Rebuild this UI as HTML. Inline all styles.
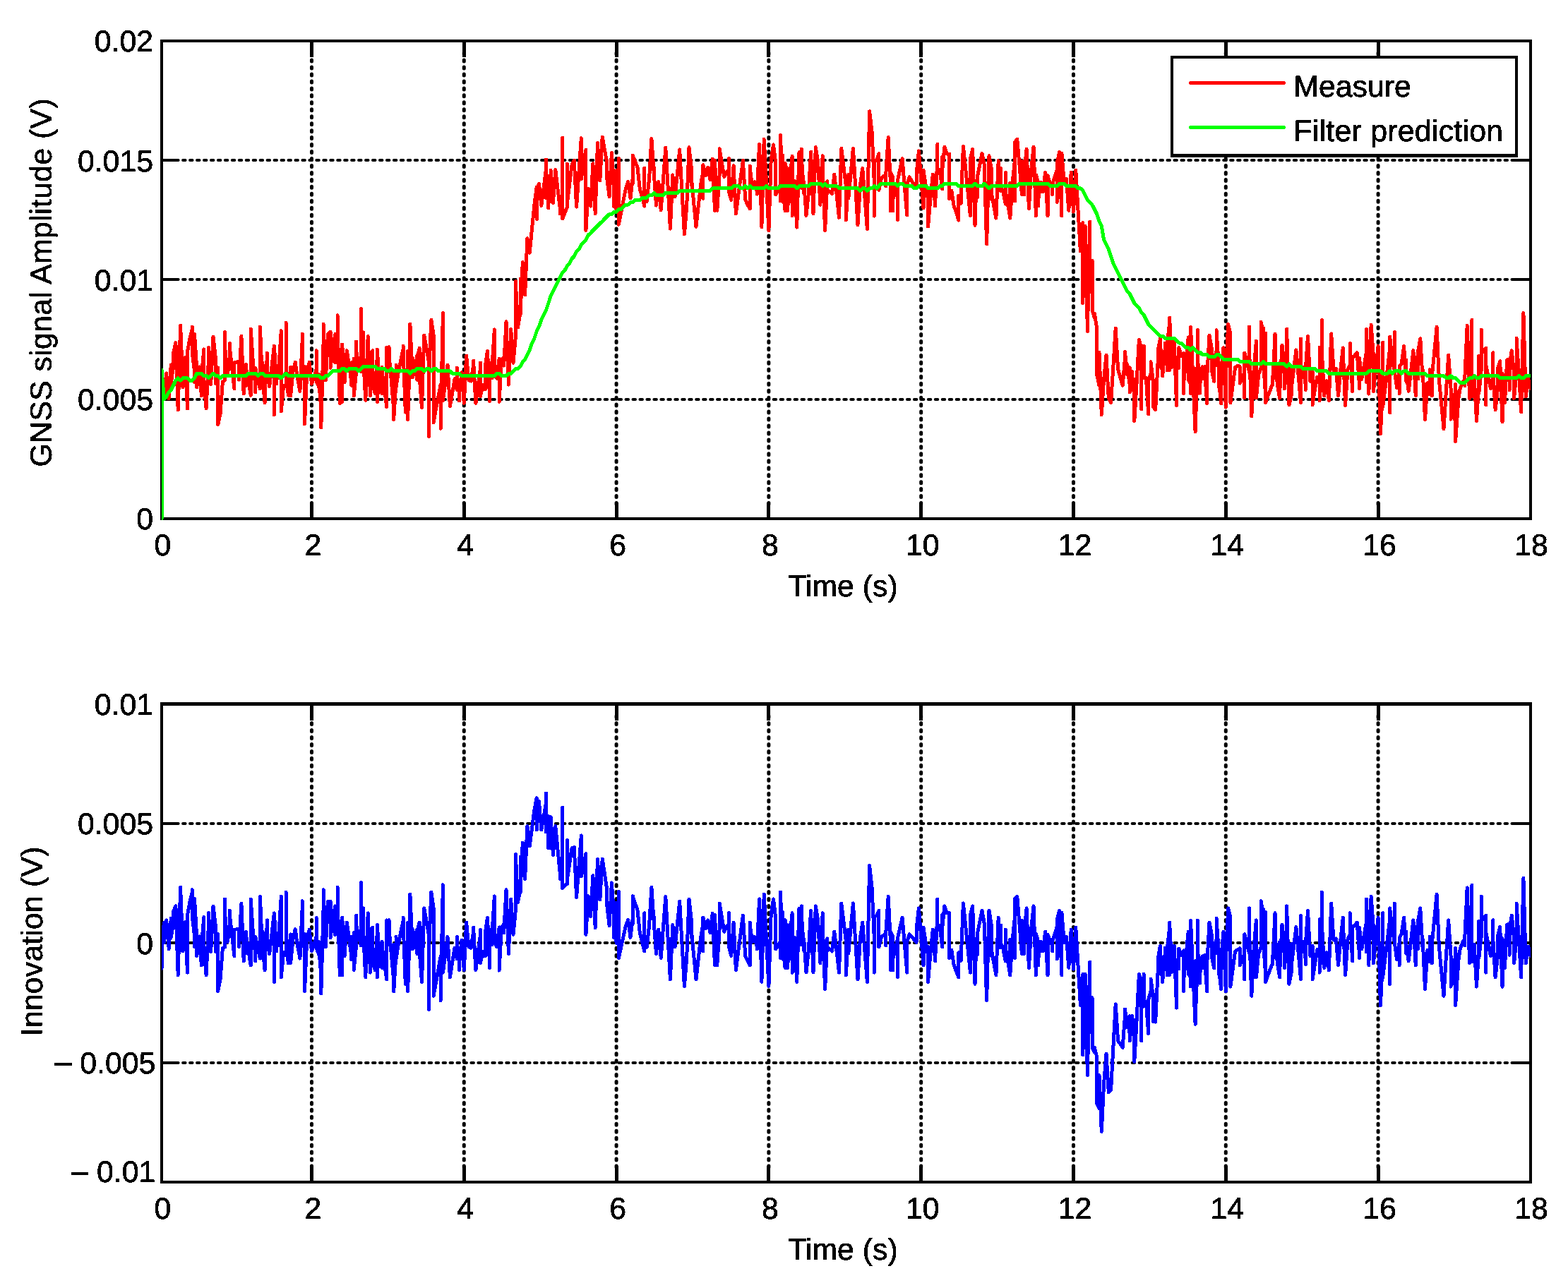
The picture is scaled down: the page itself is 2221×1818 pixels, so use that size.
<!DOCTYPE html>
<html lang="en"><head><meta charset="utf-8"><title>GNSS signal amplitude and innovation</title>
<style>
html,body{margin:0;padding:0;background:#fff;}
body{width:2221px;height:1818px;overflow:hidden;}
svg{display:block;}
.t{font-family:"Liberation Sans",sans-serif;font-size:42.8px;fill:#000;stroke:#000;stroke-width:0.7px;filter:url(#alias);}
.box{fill:none;stroke:#000;stroke-width:4;}
.tv{stroke:#000;stroke-width:5;}
.th{stroke:#000;stroke-width:4;}
.gv{stroke:#000;stroke-width:5;stroke-dasharray:2 7.96;stroke-linecap:round;shape-rendering:geometricPrecision;}
.gh{stroke:#000;stroke-width:4;stroke-dasharray:3.5 6.46;stroke-linecap:round;shape-rendering:geometricPrecision;}
.c{fill:none;stroke-width:5;stroke-linejoin:round;stroke-linecap:round;shape-rendering:crispEdges;}
</style></head><body>
<svg width="2221" height="1818" viewBox="0 0 2221 1818" shape-rendering="crispEdges" text-rendering="geometricPrecision">
<rect x="0" y="0" width="2221" height="1818" fill="#fff"/>
<defs><filter id="alias" x="-5%" y="-5%" width="110%" height="110%" color-interpolation-filters="sRGB"><feComponentTransfer><feFuncA type="discrete" tableValues="0 0 1 1"/></feComponentTransfer></filter></defs>
<defs><clipPath id="cp1"><rect x="229.0" y="58.0" width="1939.0" height="679.0"/></clipPath><clipPath id="cp2"><rect x="229.0" y="997.5" width="1939.0" height="679.5"/></clipPath></defs>
<line x1="441.48" y1="75.10" x2="441.48" y2="721.00" class="gv"/>
<line x1="441.48" y1="58.00" x2="441.48" y2="81.00" class="tv"/>
<line x1="441.48" y1="735.00" x2="441.48" y2="712.00" class="tv"/>
<line x1="657.28" y1="75.10" x2="657.28" y2="721.00" class="gv"/>
<line x1="657.28" y1="58.00" x2="657.28" y2="81.00" class="tv"/>
<line x1="657.28" y1="735.00" x2="657.28" y2="712.00" class="tv"/>
<line x1="873.08" y1="75.10" x2="873.08" y2="721.00" class="gv"/>
<line x1="873.08" y1="58.00" x2="873.08" y2="81.00" class="tv"/>
<line x1="873.08" y1="735.00" x2="873.08" y2="712.00" class="tv"/>
<line x1="1088.88" y1="75.10" x2="1088.88" y2="721.00" class="gv"/>
<line x1="1088.88" y1="58.00" x2="1088.88" y2="81.00" class="tv"/>
<line x1="1088.88" y1="735.00" x2="1088.88" y2="712.00" class="tv"/>
<line x1="1304.68" y1="75.10" x2="1304.68" y2="721.00" class="gv"/>
<line x1="1304.68" y1="58.00" x2="1304.68" y2="81.00" class="tv"/>
<line x1="1304.68" y1="735.00" x2="1304.68" y2="712.00" class="tv"/>
<line x1="1520.48" y1="75.10" x2="1520.48" y2="721.00" class="gv"/>
<line x1="1520.48" y1="58.00" x2="1520.48" y2="81.00" class="tv"/>
<line x1="1520.48" y1="735.00" x2="1520.48" y2="712.00" class="tv"/>
<line x1="1736.28" y1="75.10" x2="1736.28" y2="721.00" class="gv"/>
<line x1="1736.28" y1="58.00" x2="1736.28" y2="81.00" class="tv"/>
<line x1="1736.28" y1="735.00" x2="1736.28" y2="712.00" class="tv"/>
<line x1="1952.08" y1="75.10" x2="1952.08" y2="721.00" class="gv"/>
<line x1="1952.08" y1="58.00" x2="1952.08" y2="81.00" class="tv"/>
<line x1="1952.08" y1="735.00" x2="1952.08" y2="712.00" class="tv"/>
<line x1="249.10" y1="566.00" x2="2154.00" y2="566.00" class="gh"/>
<line x1="229.00" y1="566.00" x2="252.00" y2="566.00" class="th"/>
<line x1="2168.00" y1="566.00" x2="2145.00" y2="566.00" class="th"/>
<line x1="249.10" y1="396.00" x2="2154.00" y2="396.00" class="gh"/>
<line x1="229.00" y1="396.00" x2="252.00" y2="396.00" class="th"/>
<line x1="2168.00" y1="396.00" x2="2145.00" y2="396.00" class="th"/>
<line x1="249.10" y1="227.00" x2="2154.00" y2="227.00" class="gh"/>
<line x1="229.00" y1="227.00" x2="252.00" y2="227.00" class="th"/>
<line x1="2168.00" y1="227.00" x2="2145.00" y2="227.00" class="th"/>
<rect x="229.0" y="58.0" width="1939.0" height="677.0" class="box"/>
<g clip-path="url(#cp1)"><path class="c" stroke="#f00" d="M229.0,568.5L232.3,538.1V566.0L235.6,528.9L239.0,561.6V558.1V564.8L242.3,516.8V543.8L245.6,516.0V500.6V522.1V500.6L248.9,485.5L252.2,581.0L255.6,461.2L258.9,543.4V536.1V548.6V536.1L262.2,511.5V506.7V511.6L265.5,579.0V498.1V579.0V498.1L268.8,480.5L272.2,466.4V463.1V499.9L275.5,525.5V473.2V541.2V473.2L278.8,523.6V548.7L282.1,519.9L285.4,561.0V526.6V561.0V533.4L288.8,494.9V537.6L292.1,578.9L295.4,510.1V492.8V520.7V492.8L298.7,543.6V544.6L302.0,477.1L305.4,507.2V543.5V530.1L308.7,549.3V520.9V601.7L312.0,586.7L315.3,542.4V541.4V542.4V541.7L318.6,538.1V470.5V538.1V490.8L322.0,530.8L325.3,514.3V486.6V514.3V491.8L328.6,521.3L331.9,550.7V513.8V550.7V513.8L335.2,513.1L338.6,512.5V538.1L341.9,476.3L345.2,558.0V518.5V558.0V532.2L348.5,516.5V546.5V521.1L351.8,539.8L355.2,560.2V466.4V560.2V466.4L358.5,515.3V536.2V520.0L361.8,523.2V521.6V555.8V521.6L365.1,538.4L368.4,550.9V463.2V550.9V463.2L371.8,546.8V513.6V546.8V534.0L375.1,570.7V518.1V570.7V559.3L378.4,504.9V500.1V527.8L381.7,547.7L385.0,518.9L388.4,490.1V587.9V490.3L391.7,543.3V525.1V543.8V525.1L395.0,535.8V510.4V535.8V518.4L398.3,468.6V582.9L401.6,546.4V547.4V546.7L405.0,547.1V457.2V547.1V527.5L408.3,560.1L411.6,520.1V561.0L414.9,528.1V527.1V528.1V527.5L418.2,513.1L421.6,537.4V536.4V537.4V536.4L424.9,554.4L428.2,482.3V473.2V536.6L431.5,519.5V600.9L434.8,525.4V523.7V525.8L438.2,513.4L441.5,544.1L444.8,535.0L448.1,523.5V496.9V540.1L451.4,547.9V530.4V547.9V536.6L454.8,578.9V560.0V605.8L458.1,485.5V459.4V485.5V459.4L461.4,536.7V539.0V537.1L464.7,472.9L468.0,470.1V521.4L471.4,495.0V494.7V495.7L474.7,473.6V514.0L478.0,512.0V446.8V512.0V458.0L481.3,571.4V504.8V571.4V570.8L484.6,569.4V488.0V569.4V488.0L488.0,529.8V521.7V541.8L491.3,496.7L494.6,518.3L497.9,541.7V513.9V546.3V513.9L501.2,530.7V508.4V561.0L504.6,527.1V484.0V527.1V496.6L507.9,517.4V511.3V517.4V513.3L511.2,526.4V437.6V526.4V522.5L514.5,470.9V522.3V505.1L517.8,567.4L521.2,476.5L524.5,560.7L527.8,512.2V496.8V540.5L531.1,557.1L534.4,504.4V495.3V569.5V495.3L537.8,556.1V540.5V556.1V540.5L541.1,520.4V557.7V527.0L544.4,550.5L547.7,576.4V492.5V576.4V492.5L551.0,526.7V491.9V526.7V503.5L554.4,540.1L557.7,579.8V528.4V594.3L561.0,540.5V517.2V548.6L564.3,527.3L567.6,511.1L571.0,494.9V490.0V494.9V494.6L574.3,584.1L577.6,556.1V497.8V594.8L580.9,495.1V459.2V495.1V459.2L584.2,535.0V507.1V535.0V507.1L587.6,516.5L590.9,538.3V504.0V538.3V505.7L594.2,493.4V534.5L597.5,577.7L600.8,475.0L604.2,494.0L607.5,514.0V618.5V534.9L610.8,453.2L614.1,474.5V598.9L617.4,579.4L620.8,562.7L624.1,545.0V607.3L627.4,443.4V567.8L630.7,542.5L634.0,517.2L637.4,575.4L640.7,556.9L644.0,536.8V541.4L647.3,552.4V521.0V552.4V540.8L650.6,544.2V568.0V558.3L654.0,527.8V543.9V528.4L657.3,571.4L660.6,504.1L663.9,538.7L667.2,539.8V539.1V540.1V539.1L670.6,517.0V511.1V517.0V511.1L673.9,571.4L677.2,546.4L680.5,521.4V514.1V561.7L683.8,545.6V546.6V546.3L687.2,547.8V519.3V551.7V519.3L690.5,497.1L693.8,568.4V540.0V568.4V540.0L697.1,510.9V535.6V516.8L700.4,466.8V531.6L703.8,536.2L707.1,508.2V569.4L710.4,509.9V510.8V509.8L713.7,506.1V518.2L717.0,455.8L720.4,545.2L723.7,466.4L727.0,514.3L730.3,478.1V398.5V478.1V398.5L733.6,464.0V463.0V464.0V463.4L737.0,442.7V395.6V446.2L740.3,371.5L743.6,418.0L746.9,337.7L750.2,358.3L753.6,323.4L756.9,290.1L760.2,265.2V310.4V268.7L763.5,260.5L766.8,291.4L770.2,265.3L773.5,239.3V226.0V280.8L776.8,249.4V294.6V273.7L780.1,262.1V241.5V285.6V241.5L783.4,287.6L786.8,240.5L790.1,268.4L793.4,296.4V283.0V302.9V283.0L796.7,282.3V195.3V310.0L800.0,301.7L803.4,293.7V232.2V293.7V287.9L806.7,260.9L810.0,233.8L813.3,227.4L816.6,293.2L820.0,243.6L823.3,195.7V253.6L826.6,232.8L829.9,212.2V326.5L833.2,267.4L836.6,292.2L839.9,231.7L843.2,302.9L846.5,202.5L849.8,255.9L853.2,194.0L856.5,212.4L859.8,230.9V253.1L863.1,278.7L866.4,216.6L869.8,264.3V249.0V292.5V249.0L873.1,298.4V241.9V298.6V241.9L876.4,269.9V224.4V318.2L879.7,301.1L883.0,284.1L886.4,267.1L889.7,257.5L893.0,280.7L896.3,251.5V220.3V259.6V220.3L899.6,228.6L903.0,237.0L906.3,267.9L909.6,279.9L912.9,292.0V238.1V292.0V277.6L916.2,285.6L919.6,252.8L922.9,196.5L926.2,244.3V237.3V244.3V244.1L929.5,291.1L932.8,257.6L936.2,297.8L939.5,254.1L942.8,209.1L946.1,264.7L949.4,324.2L952.8,247.8L956.1,278.6L959.4,246.0L962.7,212.0L966.0,271.5L969.4,332.0L972.7,292.6L976.0,208.8L979.3,237.8V262.3V251.9L982.6,286.6L986.0,321.4L989.3,291.5L992.6,261.6L995.9,242.9V233.7V281.3V233.7L999.2,246.2V245.8V248.9V245.8L1002.6,237.2L1005.9,254.9L1009.2,225.1L1012.5,298.3V227.2V298.3V227.2L1015.8,298.3L1019.2,245.8V210.8V245.8V210.8L1022.5,230.8L1025.8,250.7L1029.1,243.9V243.6V244.6V243.6L1032.4,240.4V224.4V271.7L1035.8,283.5L1039.1,234.8L1042.4,302.8L1045.7,277.7L1049.0,252.6L1052.4,227.5L1055.7,282.6L1059.0,290.8L1062.3,295.6V235.0V295.6V238.3L1065.6,264.7V263.7V264.7V263.7L1069.0,257.7L1072.3,272.1V271.7V275.1V271.7L1075.6,204.3L1078.9,321.6L1082.2,197.3L1085.6,260.1L1088.9,326.9L1092.2,225.5V222.8V228.1L1095.5,205.0L1098.8,232.1V275.8L1102.2,270.0L1105.5,261.1V191.4V284.9V191.4L1108.8,285.9V220.0V285.9V268.7L1112.1,298.8V231.3V298.8V231.3L1115.4,247.1V298.8V292.8L1118.8,282.9V237.9V282.9V255.5L1122.1,221.3V305.5V280.3L1125.4,257.7V256.7V257.7V256.7L1128.7,322.1L1132.0,215.6L1135.4,266.2V211.3V266.2V224.0L1138.7,273.8V258.1V273.8V258.1L1142.0,305.5L1145.3,273.9L1148.6,215.2L1152.0,302.6L1155.3,208.5L1158.6,228.5L1161.9,290.2L1165.2,220.6V237.1V235.5L1168.6,326.6L1171.9,256.8V269.0V268.5L1175.2,271.7L1178.5,274.8L1181.8,247.1L1185.2,276.8L1188.5,308.3L1191.8,210.3L1195.1,237.2L1198.4,264.0V311.9L1201.8,247.4V281.0L1205.1,245.7L1208.4,210.3L1211.7,264.1L1215.0,318.7L1218.4,263.0L1221.7,238.6L1225.0,280.4L1228.3,323.8V323.5V324.5V323.5L1231.6,157.7L1235.0,185.8L1238.3,257.8V227.6V306.1V227.6L1241.6,227.0L1244.9,217.8V269.3L1248.2,253.9V252.9V253.9V252.9L1251.6,249.5L1254.9,247.4V244.4V264.0V244.4L1258.2,194.5L1261.5,260.4V244.8V298.9V244.8L1264.8,251.6V298.9V283.0L1268.2,269.8L1271.5,256.9V255.5V311.2V255.5L1274.8,239.8L1278.1,224.8L1281.4,266.1L1284.8,305.0V261.0V305.0V261.0L1288.1,250.8L1291.4,256.4L1294.7,261.5L1298.0,265.2V247.4V265.2V247.4L1301.4,213.9L1304.7,254.3L1308.0,294.7V241.1V294.7V241.1L1311.3,263.1V262.6V268.7L1314.6,281.7V271.2V321.0L1318.0,279.7V279.4V280.4L1321.3,247.4L1324.6,292.0V288.8V292.0V288.8L1327.9,226.3V204.3V246.4L1331.2,240.2V241.2L1334.6,267.8V222.2V267.8V242.1L1337.9,208.0L1341.2,218.0L1344.5,218.0V281.6L1347.8,272.6V270.3V276.8V270.3L1351.2,291.9L1354.5,300.7L1357.8,312.1V277.2V312.1V279.8L1361.1,288.5L1364.4,207.5L1367.8,240.1L1371.1,272.8L1374.4,305.5V224.6V305.5V224.6L1377.7,211.3L1381.0,319.1V282.1V319.1V301.9L1384.4,253.1V250.3V279.4V250.3L1387.7,234.2L1391.0,217.5L1394.3,233.6V234.6V234.2L1397.6,345.9L1401.0,220.7L1404.3,239.0V282.3V273.6L1407.6,291.1L1410.9,309.1L1414.2,227.7L1417.6,270.4V238.5V270.4V264.5L1420.9,271.0V272.0V271.9L1424.2,289.1V244.6V289.1V270.0L1427.5,289.3L1430.8,308.6V259.0V309.1L1434.2,257.9L1437.5,226.7V201.4V284.9V201.4L1440.8,197.2L1444.1,235.0L1447.4,275.6V228.5V275.6V228.5L1450.8,275.6V244.4V275.6V244.4L1454.1,211.1L1457.4,295.5L1460.7,239.8V240.8L1464.0,208.0L1467.4,305.8V247.9V305.8V247.9L1470.7,258.2V291.9V283.8L1474.0,258.2L1477.3,271.9L1480.6,244.3L1484.0,305.9V248.7V305.9V248.7L1487.3,259.4L1490.6,267.1V261.5V275.2V261.5L1493.9,251.0L1497.2,240.6V231.3V286.3V231.3L1500.6,215.3L1503.9,305.8V217.1V305.8V217.1L1507.2,257.7V259.7V258.6L1510.5,253.7L1513.8,298.3L1517.2,244.0L1520.5,300.1L1523.8,241.0L1527.1,299.2L1530.4,356.0L1533.8,315.4V429.5L1537.1,321.4V320.4V321.4V321.2L1540.4,469.6L1543.7,314.0V413.4L1547.0,402.4V369.2V439.7L1550.4,450.5V444.3V450.5V444.3L1553.7,465.5V531.1L1557.0,546.3V499.5V546.3V499.5L1560.3,587.6L1563.6,537.0V538.0L1567.0,503.3L1570.3,564.4L1573.6,570.3L1576.9,519.0L1580.2,465.0L1583.6,523.4L1586.9,534.9L1590.2,546.4L1593.5,507.7V498.8V510.8V498.8L1596.8,530.9V516.5V530.9V520.2L1600.2,545.6V520.8V555.7V520.8L1603.5,539.3V526.4V552.4L1606.8,554.7V537.7V596.4L1610.1,542.1V541.1V542.1V541.1L1613.4,481.3L1616.8,494.2V579.8V529.4L1620.1,507.0V490.0V535.6L1623.4,536.6V535.6V536.6V535.6L1626.7,586.8V539.2V586.8V539.2L1630.0,529.9V512.9V536.7V512.9L1633.4,541.1V538.0V576.3L1636.7,580.7L1640.0,515.3V494.4V515.3V497.3L1643.3,480.3V519.2V483.2L1646.6,533.0L1650.0,496.2V486.1V507.3V486.1L1653.3,499.4V487.8V524.7V487.8L1656.6,457.9V450.3V524.5V450.3L1659.9,514.2V512.4V520.1V512.4L1663.2,508.8V484.4V508.8V484.4L1666.6,574.4V506.5V574.4V506.5L1669.9,521.4V492.6V521.4V492.6L1673.2,504.9L1676.5,500.3V557.8V543.8L1679.8,510.9L1683.2,477.9V537.9L1686.5,543.9V463.8V557.3V463.8L1689.8,534.8L1693.1,611.8V522.5V611.8V603.9L1696.4,527.6V467.4V527.6V508.1L1699.8,547.6V544.0V557.1V544.0L1703.1,519.9V536.9V527.4L1706.4,519.2V525.8L1709.7,571.5V529.7V571.5V533.1L1713.0,475.4L1716.4,493.8V525.4L1719.7,540.2V511.0V540.2V511.0L1723.0,497.5V467.7V517.2V467.7L1726.3,516.8V547.6V538.4L1729.6,571.9V529.9V571.9V529.9L1733.0,492.7V516.7V498.0L1736.3,577.1V509.1V577.1V537.5L1739.6,459.6L1742.9,472.9V570.6L1746.2,545.6L1749.6,520.5L1752.9,518.5L1756.2,519.2V543.1L1759.5,535.7L1762.8,527.4V500.0V563.9V500.0L1766.2,513.4L1769.5,526.9V463.1V526.9V494.3L1772.8,589.9L1776.1,523.9V522.9V523.9V522.9L1779.4,483.2V564.0L1782.8,529.5V530.5L1786.1,521.7V456.2V521.7V456.2L1789.4,470.9V464.9V510.6L1792.7,561.6V472.0V570.6L1796.0,561.0L1799.4,552.2L1802.7,543.5V533.3V545.3L1806.0,473.1V509.1V502.2L1809.3,544.0L1812.6,564.0V514.2V564.0V557.8L1816.0,489.2V498.1L1819.3,501.9V550.7V542.2L1822.6,518.5V466.2V518.5V466.2L1825.9,573.9L1829.2,560.1V519.7V560.1V550.0L1832.6,523.1L1835.9,495.9L1839.2,533.0L1842.5,570.6V480.1V570.6V526.1L1845.8,520.2V521.2V520.5L1849.2,545.5V525.7V552.3V525.7L1852.5,476.2L1855.8,540.3L1859.1,526.0V573.6L1862.4,552.4L1865.8,534.2V535.2L1869.1,541.8V492.4V567.6L1872.4,526.6V453.5V526.6V499.5L1875.7,561.0L1879.0,541.0V539.8V541.0V540.5L1882.4,567.5L1885.7,472.8L1889.0,524.9L1892.3,523.6V522.6V523.6V522.6L1895.6,560.5L1899.0,522.6L1902.3,493.0V521.0V498.6L1905.6,574.4L1908.9,525.1V524.1V525.1V524.1L1912.2,517.4V486.6V517.4V486.6L1915.6,554.5V507.6V554.5V507.6L1918.9,503.7L1922.2,499.9L1925.5,545.5V507.5V550.3V507.5L1928.8,537.6L1932.2,518.1L1935.5,498.6V466.8V541.8V466.8L1938.8,558.2L1942.1,460.3L1945.4,503.9V554.6L1948.8,522.4L1952.1,490.1L1955.4,614.5L1958.7,547.5V485.2V576.1L1962.0,550.1L1965.4,522.4L1968.7,492.8V477.2V584.6V477.2L1972.0,510.2V509.8V510.8V509.8L1975.3,525.5V470.5V525.8L1978.6,549.5V548.5V549.5V549.3L1982.0,526.2V519.2V557.7V519.2L1985.3,515.6V514.6V515.6V514.6L1988.6,490.6L1991.9,540.7V510.1V540.7V528.4L1995.2,554.3L1998.6,525.6L2001.9,496.6L2005.2,560.5V506.3V560.5V533.7L2008.5,524.9V498.3V537.0V498.3L2011.8,479.7L2015.2,538.0V524.0V539.6V524.0L2018.5,594.9L2021.8,543.9V542.9V543.9V543.7L2025.1,558.9V523.7V558.9V523.7L2028.4,561.0V529.3V561.0V532.6L2031.8,497.9L2035.1,463.3L2038.4,538.1L2041.7,572.8L2045.0,607.6L2048.4,553.9L2051.7,503.3L2055.0,550.2V594.1L2058.3,559.8V559.1V560.1V559.1L2061.6,603.8V544.6V625.4L2065.0,578.2V555.5V578.2V570.4L2068.3,549.7L2071.6,542.8V541.8V542.8V541.8L2074.9,537.1V533.4V546.5V533.4L2078.2,461.3L2081.6,564.8L2084.9,453.3V562.0L2088.2,535.4V534.4V535.4V534.4L2091.5,596.6L2094.8,542.2V504.6V557.0L2098.2,524.6V467.2V524.6V501.5L2101.5,496.9L2104.8,493.2V574.0V516.8L2108.1,533.6L2111.4,550.4L2114.8,533.3V499.8V533.3V526.4L2118.1,580.7L2121.4,551.3V522.4V551.3V522.4L2124.7,511.8L2128.0,597.5V529.4V597.5V534.8L2131.4,570.9L2134.7,510.0L2138.0,508.6V552.8V518.2L2141.3,496.7L2144.6,530.1V564.2L2148.0,528.3V479.4V528.3V479.4L2151.3,526.1V525.1V526.1V525.2L2154.6,583.8L2157.9,443.5L2161.2,561.8L2164.6,537.6V537.0V538.0V537.0L2167.9,550.0"/><path class="c" stroke="#0f0" d="M229.0,735.0 L229.0,524.0 L232.3,565.7 L235.6,562.4 L239.0,555.7 L242.3,552.4 L245.6,545.8 L248.9,539.1 L252.2,535.8 L255.6,539.1 L258.9,535.8 L265.5,535.8 L268.8,539.1 L272.2,539.1 L275.5,535.8 L278.8,529.2 L285.4,529.2 L288.8,532.5 L292.1,532.5 L295.4,535.8 L298.7,532.5 L302.0,529.2 L305.4,532.5 L308.7,532.5 L312.0,535.8 L315.3,532.5 L348.5,532.5 L351.8,529.2 L361.8,529.2 L365.1,532.5 L368.4,529.2 L371.8,529.2 L375.1,532.5 L395.0,532.5 L398.3,535.8 L401.6,532.5 L405.0,529.2 L408.3,532.5 L451.4,532.5 L454.8,535.8 L458.1,535.8 L461.4,532.5 L464.7,532.5 L468.0,529.2 L471.4,525.8 L481.3,525.8 L484.6,522.5 L488.0,522.5 L491.3,525.8 L494.6,522.5 L504.6,522.5 L507.9,525.8 L511.2,522.5 L514.5,519.2 L531.1,519.2 L534.4,522.5 L544.4,522.5 L547.7,525.8 L551.0,525.8 L554.4,522.5 L557.7,525.8 L577.6,525.8 L580.9,529.2 L584.2,525.8 L587.6,525.8 L590.9,522.5 L597.5,522.5 L600.8,525.8 L604.2,522.5 L607.5,522.5 L610.8,525.8 L614.1,522.5 L617.4,522.5 L620.8,525.8 L637.4,525.8 L640.7,529.2 L650.6,529.2 L654.0,532.5 L700.4,532.5 L703.8,529.2 L707.1,529.2 L710.4,532.5 L717.0,532.5 L720.4,529.2 L723.7,529.2 L727.0,525.8 L730.3,522.5 L733.6,522.5 L737.0,519.2 L740.3,512.6 L743.6,509.2 L746.9,502.6 L750.2,496.0 L753.6,486.0 L756.9,479.4 L760.2,469.4 L763.5,462.8 L766.8,452.8 L770.2,446.2 L773.5,439.5 L776.8,429.6 L780.1,419.6 L783.4,413.0 L786.8,406.3 L790.1,399.7 L793.4,393.0 L796.7,386.4 L800.0,383.1 L803.4,376.4 L806.7,373.1 L810.0,366.5 L813.3,363.2 L816.6,356.5 L820.0,353.2 L823.3,346.6 L826.6,343.2 L829.9,339.9 L833.2,333.3 L836.6,330.0 L839.9,326.6 L843.2,323.3 L846.5,320.0 L849.8,316.7 L853.2,313.4 L856.5,310.0 L859.8,306.7 L863.1,303.4 L866.4,303.4 L869.8,300.1 L873.1,300.1 L876.4,296.8 L879.7,296.8 L883.0,293.4 L886.4,290.1 L889.7,290.1 L893.0,286.8 L896.3,286.8 L899.6,283.5 L906.3,283.5 L909.6,280.2 L916.2,280.2 L919.6,276.8 L922.9,276.8 L926.2,273.5 L929.5,276.8 L939.5,276.8 L942.8,273.5 L959.4,273.5 L962.7,270.2 L1005.9,270.2 L1009.2,266.9 L1035.8,266.9 L1039.1,263.6 L1045.7,263.6 L1049.0,266.9 L1052.4,266.9 L1055.7,263.6 L1059.0,266.9 L1062.3,263.6 L1065.6,266.9 L1082.2,266.9 L1085.6,263.6 L1088.9,266.9 L1102.2,266.9 L1105.5,263.6 L1125.4,263.6 L1128.7,266.9 L1132.0,263.6 L1145.3,263.6 L1148.6,260.2 L1161.9,260.2 L1165.2,263.6 L1168.6,260.2 L1171.9,263.6 L1185.2,263.6 L1188.5,266.9 L1215.0,266.9 L1218.4,270.2 L1221.7,266.9 L1225.0,266.9 L1228.3,270.2 L1231.6,266.9 L1235.0,266.9 L1238.3,263.6 L1241.6,266.9 L1244.9,263.6 L1248.2,260.2 L1268.2,260.2 L1271.5,263.6 L1274.8,260.2 L1278.1,260.2 L1281.4,263.6 L1291.4,263.6 L1294.7,266.9 L1298.0,266.9 L1301.4,263.6 L1311.3,263.6 L1314.6,266.9 L1327.9,266.9 L1331.2,263.6 L1334.6,263.6 L1337.9,260.2 L1354.5,260.2 L1357.8,263.6 L1377.7,263.6 L1381.0,260.2 L1384.4,263.6 L1391.0,263.6 L1394.3,260.2 L1397.6,263.6 L1401.0,266.9 L1404.3,263.6 L1440.8,263.6 L1444.1,260.2 L1484.0,260.2 L1487.3,263.6 L1497.2,263.6 L1500.6,260.2 L1507.2,260.2 L1510.5,263.6 L1523.8,263.6 L1527.1,266.9 L1530.4,266.9 L1533.8,270.2 L1537.1,276.8 L1540.4,283.5 L1543.7,286.8 L1547.0,290.1 L1550.4,296.8 L1553.7,303.4 L1557.0,313.4 L1560.3,320.0 L1563.6,339.9 L1567.0,346.6 L1570.3,353.2 L1573.6,363.2 L1576.9,373.1 L1580.2,379.8 L1583.6,386.4 L1586.9,393.0 L1590.2,399.7 L1593.5,406.3 L1596.8,413.0 L1600.2,416.3 L1603.5,422.9 L1606.8,429.6 L1610.1,432.9 L1613.4,436.2 L1616.8,442.8 L1620.1,446.2 L1623.4,452.8 L1626.7,459.4 L1630.0,462.8 L1633.4,466.1 L1636.7,469.4 L1640.0,472.7 L1643.3,476.0 L1646.6,476.0 L1650.0,479.4 L1663.2,479.4 L1666.6,482.7 L1669.9,486.0 L1673.2,486.0 L1676.5,489.3 L1679.8,492.6 L1683.2,492.6 L1686.5,496.0 L1689.8,492.6 L1693.1,496.0 L1696.4,499.3 L1699.8,499.3 L1703.1,502.6 L1709.7,502.6 L1713.0,505.9 L1719.7,505.9 L1723.0,502.6 L1726.3,502.6 L1729.6,505.9 L1733.0,509.2 L1752.9,509.2 L1756.2,512.6 L1769.5,512.6 L1772.8,515.9 L1786.1,515.9 L1789.4,512.6 L1792.7,515.9 L1819.3,515.9 L1822.6,519.2 L1825.9,515.9 L1829.2,519.2 L1842.5,519.2 L1845.8,522.5 L1862.4,522.5 L1865.8,525.8 L1879.0,525.8 L1882.4,529.2 L1935.5,529.2 L1938.8,525.8 L1955.4,525.8 L1958.7,529.2 L1965.4,529.2 L1968.7,525.8 L1972.0,529.2 L1975.3,525.8 L1982.0,525.8 L1985.3,529.2 L1988.6,525.8 L1991.9,525.8 L1995.2,529.2 L2018.5,529.2 L2021.8,532.5 L2045.0,532.5 L2048.4,535.8 L2051.7,535.8 L2055.0,532.5 L2058.3,535.8 L2061.6,535.8 L2065.0,539.1 L2068.3,542.4 L2074.9,542.4 L2078.2,539.1 L2081.6,535.8 L2084.9,535.8 L2088.2,532.5 L2091.5,535.8 L2094.8,535.8 L2098.2,532.5 L2121.4,532.5 L2124.7,535.8 L2148.0,535.8 L2151.3,532.5 L2154.6,535.8 L2157.9,535.8 L2161.2,532.5 L2167.9,532.5"/></g>
<text x="217.0" y="750.30" text-anchor="end" class="t" xml:space="preserve">0</text>
<text x="217.0" y="581.05" text-anchor="end" class="t" xml:space="preserve">0.005</text>
<text x="217.0" y="411.80" text-anchor="end" class="t" xml:space="preserve">0.01</text>
<text x="217.0" y="242.55" text-anchor="end" class="t" xml:space="preserve">0.015</text>
<text x="217.0" y="73.30" text-anchor="end" class="t" xml:space="preserve">0.02</text>
<text x="230.50" y="787.00" text-anchor="middle" class="t">0</text>
<text x="443.48" y="787.00" text-anchor="middle" class="t">2</text>
<text x="659.28" y="787.00" text-anchor="middle" class="t">4</text>
<text x="875.08" y="787.00" text-anchor="middle" class="t">6</text>
<text x="1090.88" y="787.00" text-anchor="middle" class="t">8</text>
<text x="1306.68" y="787.00" text-anchor="middle" class="t">10</text>
<text x="1522.48" y="787.00" text-anchor="middle" class="t">12</text>
<text x="1738.28" y="787.00" text-anchor="middle" class="t">14</text>
<text x="1954.08" y="787.00" text-anchor="middle" class="t">16</text>
<text x="2169.00" y="787.00" text-anchor="middle" class="t">18</text>
<text x="1194" y="845.00" text-anchor="middle" class="t">Time (s)</text>
<text transform="translate(72.6,400.4) rotate(-90)" text-anchor="middle" class="t" style="letter-spacing:0.35px">GNSS signal Amplitude (V)</text>
<rect x="1659.7" y="81" width="488.3" height="139" class="box" fill="#fff" style="fill:#fff"/>
<line x1="1657.7" y1="220.5" x2="2150" y2="220.5" stroke="#000" stroke-width="5"/>
<line x1="1686.8" y1="117.5" x2="1818.5" y2="117.5" stroke="#f00" stroke-width="5" stroke-linecap="round"/>
<line x1="1686.8" y1="180.5" x2="1818.5" y2="180.5" stroke="#0f0" stroke-width="5" stroke-linecap="round"/>
<text x="1832.3" y="137.4" class="t">Measure</text>
<text x="1832.3" y="200" class="t" style="letter-spacing:0.27px">Filter prediction</text>
<line x1="227.0" y1="997.5" x2="2170.0" y2="997.5" stroke="#000" stroke-width="5"/>
<line x1="441.48" y1="1014.60" x2="441.48" y2="1661.00" class="gv"/>
<line x1="441.48" y1="997.50" x2="441.48" y2="1020.50" class="tv"/>
<line x1="441.48" y1="1675.00" x2="441.48" y2="1652.00" class="tv"/>
<line x1="657.28" y1="1014.60" x2="657.28" y2="1661.00" class="gv"/>
<line x1="657.28" y1="997.50" x2="657.28" y2="1020.50" class="tv"/>
<line x1="657.28" y1="1675.00" x2="657.28" y2="1652.00" class="tv"/>
<line x1="873.08" y1="1014.60" x2="873.08" y2="1661.00" class="gv"/>
<line x1="873.08" y1="997.50" x2="873.08" y2="1020.50" class="tv"/>
<line x1="873.08" y1="1675.00" x2="873.08" y2="1652.00" class="tv"/>
<line x1="1088.88" y1="1014.60" x2="1088.88" y2="1661.00" class="gv"/>
<line x1="1088.88" y1="997.50" x2="1088.88" y2="1020.50" class="tv"/>
<line x1="1088.88" y1="1675.00" x2="1088.88" y2="1652.00" class="tv"/>
<line x1="1304.68" y1="1014.60" x2="1304.68" y2="1661.00" class="gv"/>
<line x1="1304.68" y1="997.50" x2="1304.68" y2="1020.50" class="tv"/>
<line x1="1304.68" y1="1675.00" x2="1304.68" y2="1652.00" class="tv"/>
<line x1="1520.48" y1="1014.60" x2="1520.48" y2="1661.00" class="gv"/>
<line x1="1520.48" y1="997.50" x2="1520.48" y2="1020.50" class="tv"/>
<line x1="1520.48" y1="1675.00" x2="1520.48" y2="1652.00" class="tv"/>
<line x1="1736.28" y1="1014.60" x2="1736.28" y2="1661.00" class="gv"/>
<line x1="1736.28" y1="997.50" x2="1736.28" y2="1020.50" class="tv"/>
<line x1="1736.28" y1="1675.00" x2="1736.28" y2="1652.00" class="tv"/>
<line x1="1952.08" y1="1014.60" x2="1952.08" y2="1661.00" class="gv"/>
<line x1="1952.08" y1="997.50" x2="1952.08" y2="1020.50" class="tv"/>
<line x1="1952.08" y1="1675.00" x2="1952.08" y2="1652.00" class="tv"/>
<line x1="249.10" y1="1506.00" x2="2154.00" y2="1506.00" class="gh"/>
<line x1="229.00" y1="1506.00" x2="252.00" y2="1506.00" class="th"/>
<line x1="2168.00" y1="1506.00" x2="2145.00" y2="1506.00" class="th"/>
<line x1="249.10" y1="1336.00" x2="2154.00" y2="1336.00" class="gh"/>
<line x1="229.00" y1="1336.00" x2="252.00" y2="1336.00" class="th"/>
<line x1="2168.00" y1="1336.00" x2="2145.00" y2="1336.00" class="th"/>
<line x1="249.10" y1="1167.00" x2="2154.00" y2="1167.00" class="gh"/>
<line x1="229.00" y1="1167.00" x2="252.00" y2="1167.00" class="th"/>
<line x1="2168.00" y1="1167.00" x2="2145.00" y2="1167.00" class="th"/>
<rect x="229.0" y="997.5" width="1939.0" height="677.5" class="box"/>
<g clip-path="url(#cp2)"><path class="c" stroke="#00f" d="M229.0,1372.1V1343.2V1372.1V1343.2L232.3,1307.8V1335.7L235.6,1303.9L239.0,1341.6V1338.2V1344.8L242.3,1301.4V1328.5L245.6,1307.2V1291.8V1313.2V1291.8L248.9,1283.9L252.2,1381.7L255.6,1257.1L258.9,1342.6V1335.3V1347.9V1335.3L262.2,1311.7V1306.9V1311.7L265.5,1378.1V1297.2V1378.1V1297.2L268.8,1278.5L272.2,1264.2V1260.9V1297.8L275.5,1326.0V1273.6V1341.7V1273.6L278.8,1329.4V1354.5L282.1,1326.9L285.4,1367.8V1333.4V1367.8V1340.2L288.8,1299.6V1342.4L292.1,1381.7L295.4,1311.0V1293.6V1321.6V1293.6L298.7,1347.5V1348.5L302.0,1283.9L305.4,1312.2V1348.5V1335.1L308.7,1352.3V1323.8V1404.7L312.0,1387.8L315.3,1344.5V1343.5V1344.5V1343.8L318.6,1341.7V1274.0V1341.7V1294.3L322.0,1334.6L325.3,1318.0V1290.3V1318.0V1295.5L328.6,1325.0L331.9,1354.5V1317.5V1354.5V1317.5L335.2,1316.8L338.6,1316.2V1341.8L341.9,1280.0L345.2,1361.8V1322.2V1361.8V1335.9L348.5,1320.2V1350.3V1324.9L351.8,1346.4L355.2,1367.8V1274.0V1367.8V1274.0L358.5,1322.9V1343.8V1327.6L361.8,1329.1V1327.6V1361.8V1327.6L365.1,1342.8L368.4,1358.1V1270.4V1358.1V1270.4L371.8,1352.8V1319.6V1352.8V1339.9L375.1,1374.8V1322.1V1374.8V1363.4L378.4,1308.6V1303.9V1331.6L381.7,1351.5L385.0,1322.7L388.4,1293.8V1391.6V1294.0L391.7,1347.1V1328.8V1347.6V1328.8L395.0,1339.6V1314.1V1339.6V1322.1L398.3,1270.4V1384.8L401.6,1349.6V1350.6V1349.9L405.0,1353.9V1264.0V1353.9V1334.3L408.3,1364.8L411.6,1323.8V1364.8L414.9,1331.9V1330.9V1331.9V1331.3L418.2,1316.8L421.6,1341.1V1340.1V1341.1V1340.1L424.9,1358.1L428.2,1286.0V1276.9V1340.3L431.5,1323.2V1404.7L434.8,1329.2V1327.4V1329.5L438.2,1317.2L441.5,1347.9L444.8,1338.8L448.1,1327.2V1300.6V1343.8L451.4,1351.7V1334.2V1351.7V1340.3L454.8,1380.8V1361.9V1407.7L458.1,1287.0V1260.9V1287.0V1260.9L461.4,1339.6V1341.8V1339.9L464.7,1277.3L468.0,1277.3V1328.5L471.4,1304.9V1304.6V1305.6L474.7,1283.9V1324.3L478.0,1322.3V1257.1V1322.3V1268.3L481.3,1381.7V1315.1V1381.7V1381.1L484.6,1381.7V1300.2V1381.7V1300.2L488.0,1342.4V1334.4V1354.5L491.3,1307.1L494.6,1331.2L497.9,1355.3V1327.5V1359.9V1327.5L501.2,1344.1V1321.8V1374.5L504.6,1340.4V1297.2V1340.4V1309.8L507.9,1327.9V1321.7V1327.9V1323.8L511.2,1339.5V1250.6V1339.5V1335.6L514.5,1286.9V1338.3V1321.1L517.8,1384.8L521.2,1293.8L524.5,1378.1L527.8,1329.6V1314.1V1357.9L531.1,1374.5L534.4,1319.7V1310.5V1384.8V1310.5L537.8,1369.8V1354.2V1369.8V1354.2L541.1,1334.1V1371.4V1340.7L544.4,1364.2L547.7,1387.8V1303.9V1387.8V1303.9L551.0,1338.7V1303.9V1338.7V1315.5L554.4,1352.8L557.7,1390.1V1338.7V1404.7L561.0,1350.8V1327.5V1358.9L564.3,1337.6L567.6,1321.4L571.0,1305.2V1300.2V1305.2V1304.9L574.3,1394.4L577.6,1366.0V1307.6V1404.7L580.9,1302.9V1267.0V1302.9V1267.0L584.2,1344.7V1316.7V1344.7V1316.7L587.6,1327.9L590.9,1351.5V1317.2V1351.5V1318.9L594.2,1307.1V1348.2L597.5,1391.4L600.8,1286.9L604.2,1306.5L607.5,1326.1V1430.7V1347.1L610.8,1264.0L614.1,1286.9V1411.4L617.4,1392.7L620.8,1374.0L624.1,1355.3V1417.7L627.4,1253.7V1378.1L630.7,1352.8L634.0,1327.5L637.4,1384.8L640.7,1364.0L644.0,1343.3V1347.9L647.3,1358.9V1327.5V1358.9V1347.2L650.6,1350.7V1374.5V1364.8L654.0,1332.3V1348.3V1332.9L657.3,1374.5L660.6,1307.1L663.9,1341.8L667.2,1342.9V1342.2V1343.2V1342.2L670.6,1320.0V1314.1V1320.0V1314.1L673.9,1374.5L677.2,1349.5L680.5,1324.5V1317.2V1364.8L683.8,1348.7V1349.7V1349.4L687.2,1350.9V1322.3V1354.8V1322.3L690.5,1300.1L693.8,1371.4V1343.0V1371.4V1343.0L697.1,1313.9V1338.6V1319.8L700.4,1269.8V1334.5L703.8,1341.8L707.1,1313.9V1375.1L710.4,1314.3V1315.3V1314.3L713.7,1309.7V1321.8L717.0,1260.7L720.4,1351.5L723.7,1274.0L727.0,1324.3L730.3,1290.4V1210.7V1290.4V1210.7L733.6,1278.6V1277.6V1278.6V1277.9L737.0,1261.3V1214.1V1264.8L740.3,1194.1L743.6,1245.4L746.9,1170.6L750.2,1198.8L753.6,1173.2L756.9,1147.6L760.2,1130.6V1175.8V1134.2L763.5,1135.5L766.8,1175.8L770.2,1156.6L773.5,1137.3V1124.0V1178.9L776.8,1156.6V1201.9V1180.9L780.1,1178.4V1157.9V1201.9V1157.9L783.4,1211.5L786.8,1170.6L790.1,1204.7L793.4,1238.9V1225.5V1245.4V1225.5L796.7,1231.0V1144.0V1258.7L800.0,1255.4L803.4,1252.1V1190.5V1252.1V1246.3L806.7,1224.1L810.0,1202.0L813.3,1200.6L816.6,1271.4L820.0,1226.8L823.3,1183.9V1241.8L826.6,1225.8L829.9,1209.9V1324.3L833.2,1269.8L836.6,1298.6L839.9,1240.7L843.2,1314.6L846.5,1217.1L849.8,1275.0L853.2,1217.1L856.5,1238.9L859.8,1260.7V1283.0L863.1,1311.6L866.4,1251.0L869.8,1300.4V1285.0V1328.5V1285.0L873.1,1336.1V1279.5V1336.3V1279.5L876.4,1309.2V1263.7V1357.5L879.7,1342.2L883.0,1326.9L886.4,1311.6L889.7,1303.6L893.0,1328.5L896.3,1300.9V1269.8V1309.0V1269.8L899.6,1279.7L903.0,1289.7L906.3,1321.8L909.6,1334.8L912.9,1347.9V1293.9V1347.9V1333.4L916.2,1342.4L919.6,1311.0L922.9,1257.1L926.2,1306.6V1299.6V1306.6V1306.5L929.5,1351.5L932.8,1317.2L936.2,1357.5L939.5,1313.9L942.8,1270.4L946.1,1329.1L949.4,1387.8L952.8,1310.5L956.1,1341.8L959.4,1309.5L962.7,1277.3L966.0,1337.4L969.4,1397.5L972.7,1357.5L976.0,1274.0L979.3,1304.0V1328.5V1318.0L982.6,1352.9L986.0,1387.8L989.3,1357.9L992.6,1328.1L995.9,1309.5V1300.2V1347.9V1300.2L999.2,1312.8V1312.4V1315.5V1312.4L1002.6,1303.9L1005.9,1321.9L1009.2,1294.2L1012.5,1367.8V1296.6V1367.8V1296.6L1015.8,1367.8L1019.2,1315.3V1280.3V1315.3V1280.3L1022.5,1300.2L1025.8,1320.2L1029.1,1313.4V1313.0V1314.0V1313.0L1032.4,1309.9V1293.8V1341.2L1035.8,1354.5L1039.1,1307.1L1042.4,1374.5L1045.7,1348.7L1049.0,1323.0L1052.4,1297.2L1055.7,1354.5L1059.0,1361.2L1062.3,1367.8V1307.1V1367.8V1310.5L1065.6,1334.5V1333.5V1334.5V1333.5L1069.0,1327.5L1072.3,1341.9V1341.5V1344.8V1341.5L1075.6,1274.0L1078.9,1391.4L1082.2,1267.0L1085.6,1332.2L1088.9,1397.5L1092.2,1294.5V1291.8V1297.2L1095.5,1274.0L1098.8,1301.2V1344.8L1102.2,1339.3L1105.5,1333.7V1264.0V1357.5V1264.0L1108.8,1358.5V1292.6V1358.5V1341.3L1112.1,1371.4V1303.9V1371.4V1303.9L1115.4,1319.6V1371.4V1365.5L1118.8,1355.5V1310.5V1355.5V1328.1L1122.1,1293.8V1378.1V1352.9L1125.4,1329.5V1328.5V1329.5V1328.5L1128.7,1391.4L1132.0,1286.9L1135.4,1338.8V1283.9V1338.8V1296.5L1138.7,1346.4V1330.7V1346.4V1330.7L1142.0,1378.1L1145.3,1347.3L1148.6,1290.6L1152.0,1378.1L1155.3,1283.9L1158.6,1303.9L1161.9,1364.8L1165.2,1293.8V1310.3V1308.8L1168.6,1401.7L1171.9,1329.9V1342.0V1341.6L1175.2,1344.7L1178.5,1347.9L1181.8,1320.2L1185.2,1349.1L1188.5,1378.1L1191.8,1280.0L1195.1,1306.9L1198.4,1333.8V1381.7L1201.8,1317.2V1350.8L1205.1,1315.4L1208.4,1280.0L1211.7,1333.9L1215.0,1387.8L1218.4,1329.9L1221.7,1307.1L1225.0,1348.9L1228.3,1390.7V1390.4V1391.4V1390.4L1231.6,1226.5L1235.0,1256.7L1238.3,1329.8V1299.5V1378.1V1299.5L1241.6,1297.2L1244.9,1290.3V1341.8L1248.2,1328.5V1327.5V1328.5V1327.5L1251.6,1325.4L1254.9,1323.3V1320.3V1339.9V1320.3L1258.2,1270.4L1261.5,1336.3V1320.7V1374.8V1320.7L1264.8,1327.5V1374.8V1359.0L1268.2,1344.7L1271.5,1330.4V1329.0V1384.8V1329.0L1274.8,1314.6L1278.1,1300.2L1281.4,1339.2L1284.8,1378.1V1334.1V1378.1V1334.1L1288.1,1323.8L1291.4,1327.5L1294.7,1331.3L1298.0,1335.0V1317.2V1335.0V1317.2L1301.4,1286.9L1304.7,1327.4L1308.0,1367.8V1314.1V1367.8V1314.1L1311.3,1336.2V1335.7V1341.8L1314.6,1352.0V1341.5V1391.4L1318.0,1349.4V1349.2V1350.2L1321.3,1317.2L1324.6,1361.8V1358.6V1361.8V1358.6L1327.9,1296.0V1274.0V1316.2L1331.2,1311.7V1312.7L1334.6,1341.8V1296.2V1341.8V1316.2L1337.9,1283.9L1341.2,1293.8L1344.5,1293.8V1357.5L1347.8,1348.6V1346.2V1352.7V1346.2L1351.2,1367.8L1354.5,1376.3L1357.8,1384.8V1349.8V1384.8V1352.4L1361.1,1361.2L1364.4,1280.0L1367.8,1312.7L1371.1,1345.4L1374.4,1378.1V1297.2V1378.1V1297.2L1377.7,1283.9L1381.0,1394.4V1357.3V1394.4V1377.2L1384.4,1326.0V1323.3V1352.3V1323.3L1387.7,1306.8L1391.0,1290.3L1394.3,1308.9V1309.9V1309.5L1397.6,1417.7L1401.0,1290.3L1404.3,1311.1V1354.5V1345.8L1407.6,1363.7L1410.9,1381.7L1414.2,1300.2L1417.6,1343.0V1311.1V1343.0V1337.1L1420.9,1343.6V1344.6V1344.5L1424.2,1361.8V1317.2V1361.8V1342.6L1427.5,1361.9L1430.8,1381.3V1331.6V1381.7L1434.2,1330.5L1437.5,1299.3V1274.0V1357.5V1274.0L1440.8,1270.4L1444.1,1310.9L1447.4,1351.5V1304.4V1351.5V1304.4L1450.8,1351.5V1320.3V1351.5V1320.3L1454.1,1286.9L1457.4,1371.4L1460.7,1315.7V1316.7L1464.0,1283.9L1467.4,1381.7V1323.8V1381.7V1323.8L1470.7,1334.1V1367.8V1359.7L1474.0,1334.1L1477.3,1347.9L1480.6,1320.2L1484.0,1381.7V1324.4V1381.7V1324.4L1487.3,1332.1L1490.6,1339.7V1334.1V1347.9V1334.1L1493.9,1323.6L1497.2,1313.2V1303.9V1358.9V1303.9L1500.6,1290.3L1503.9,1381.7V1293.0V1381.7V1293.0L1507.2,1333.6V1335.6V1334.5L1510.5,1327.1L1513.8,1371.4L1517.2,1317.1L1520.5,1373.2L1523.8,1314.1L1527.1,1369.3L1530.4,1424.5L1533.8,1380.5V1494.7L1537.1,1381.4V1380.4V1381.4V1381.2L1540.4,1523.7L1543.7,1363.0V1462.4L1547.0,1447.0V1413.8V1484.4L1550.4,1490.7V1484.5V1490.7V1484.5L1553.7,1498.0V1563.6L1557.0,1570.7V1523.9V1570.7V1523.9L1560.3,1603.5L1563.6,1534.6V1535.6L1567.0,1493.0L1570.3,1547.9L1573.6,1544.3L1576.9,1483.6L1580.2,1422.9L1583.6,1474.7L1586.9,1479.5L1590.2,1484.4L1593.5,1439.1V1430.1V1442.2V1430.1L1596.8,1455.6V1441.2V1455.6V1445.0L1600.2,1464.6V1439.8V1474.7V1439.8L1603.5,1452.8V1439.8V1465.9L1606.8,1462.6V1445.6V1504.3L1610.1,1445.7V1444.7V1445.7V1444.7L1613.4,1380.5L1616.8,1389.1V1474.7V1424.3L1620.1,1397.5V1380.5V1426.1L1623.4,1420.6V1419.6V1420.6V1419.6L1626.7,1464.4V1416.8V1464.4V1416.8L1630.0,1404.2V1387.2V1411.0V1387.2L1633.4,1412.1V1408.9V1447.3L1636.7,1448.1L1640.0,1379.0V1358.0V1379.0V1360.9L1643.3,1340.4V1379.2V1343.2L1646.6,1391.9L1650.0,1353.7V1343.6V1364.8V1343.6L1653.3,1356.5V1344.8V1381.8V1344.8L1656.6,1314.9V1307.3V1381.6V1307.3L1659.9,1371.2V1369.5V1377.2V1369.5L1663.2,1364.8V1340.4V1364.8V1340.4L1666.6,1428.1V1360.2V1428.1V1360.2L1669.9,1372.8V1344.0V1372.8V1344.0L1673.2,1353.9L1676.5,1347.0V1404.6V1390.5L1679.8,1355.3L1683.2,1320.0V1380.1L1686.5,1384.4V1304.3V1397.9V1304.3L1689.8,1377.7L1693.1,1451.1V1361.8V1451.1V1443.3L1696.4,1364.5V1304.3V1364.5V1345.0L1699.8,1383.6V1380.0V1393.1V1380.0L1703.1,1354.9V1371.9V1362.4L1706.4,1353.3V1359.9L1709.7,1404.6V1362.8V1404.6V1366.1L1713.0,1307.3L1716.4,1324.7V1356.4L1719.7,1371.9V1342.6V1371.9V1342.6L1723.0,1331.1V1301.3V1350.8V1301.3L1726.3,1349.1V1379.9V1370.7L1729.6,1401.5V1359.5V1401.5V1359.5L1733.0,1320.0V1344.0V1325.4L1736.3,1404.6V1336.5V1404.6V1364.9L1739.6,1286.9L1742.9,1300.2V1398.1L1746.2,1373.0L1749.6,1347.9L1752.9,1345.8L1756.2,1343.8V1367.8L1759.5,1359.6L1762.8,1351.3V1323.8V1387.8V1323.8L1766.2,1337.3L1769.5,1350.7V1286.9V1350.7V1318.2L1772.8,1411.4L1776.1,1344.6V1343.6V1344.6V1343.6L1779.4,1303.9V1384.8L1782.8,1350.3V1351.3L1786.1,1342.5V1276.9V1342.5V1276.9L1789.4,1294.2V1288.2V1333.9L1792.7,1382.4V1292.7V1391.4L1796.0,1381.7L1799.4,1373.0L1802.7,1364.2V1354.0V1366.0L1806.0,1293.8V1329.8V1322.9L1809.3,1364.8L1812.6,1384.8V1334.9V1384.8V1378.5L1816.0,1309.9V1318.8L1819.3,1322.6V1371.4V1362.9L1822.6,1336.2V1283.9V1336.2V1283.9L1825.9,1394.4L1829.2,1378.1V1337.7V1378.1V1368.0L1832.6,1340.8L1835.9,1313.5L1839.2,1350.7L1842.5,1387.8V1297.2V1387.8V1343.3L1845.8,1334.4V1335.4V1334.6L1849.2,1359.7V1339.9V1366.5V1339.9L1852.5,1290.3L1855.8,1354.5L1859.1,1340.2V1387.8L1862.4,1366.5L1865.8,1345.3V1346.3L1869.1,1352.2V1302.8V1378.1L1872.4,1337.1V1264.0V1337.1V1309.9L1875.7,1371.4L1879.0,1351.0V1349.8V1351.0V1350.5L1882.4,1374.8L1885.7,1280.0L1889.0,1332.1L1892.3,1330.9V1329.9V1330.9V1329.9L1895.6,1367.8L1899.0,1329.9L1902.3,1300.2V1328.2V1305.9L1905.6,1381.7L1908.9,1332.4V1331.4V1332.4V1331.4L1912.2,1324.6V1293.8V1324.6V1293.8L1915.6,1361.8V1314.8V1361.8V1314.8L1918.9,1311.0L1922.2,1307.1L1925.5,1352.8V1314.8V1357.5V1314.8L1928.8,1344.8L1932.2,1325.4L1935.5,1305.9V1274.0V1349.0V1274.0L1938.8,1367.8L1942.1,1270.4L1945.4,1314.0V1364.8L1948.8,1332.5L1952.1,1300.2L1955.4,1424.7L1958.7,1356.1V1293.8V1384.8L1962.0,1357.3L1965.4,1329.9L1968.7,1302.5V1286.9V1394.4V1286.9L1972.0,1317.7V1317.4V1318.4V1317.4L1975.3,1335.1V1280.0V1335.4L1978.6,1359.6V1358.6V1359.6V1359.5L1982.0,1336.3V1329.4V1367.8V1329.4L1985.3,1323.4V1322.4V1323.4V1322.4L1988.6,1300.2L1991.9,1350.9V1320.2V1350.9V1338.5L1995.2,1361.8L1998.6,1332.8L2001.9,1303.9L2005.2,1367.8V1313.5V1367.8V1341.0L2008.5,1332.2V1305.6V1344.2V1305.6L2011.8,1286.9L2015.2,1345.3V1331.3V1346.9V1331.3L2018.5,1401.7L2021.8,1347.7V1346.7V1347.7V1347.6L2025.1,1362.6V1327.5V1362.6V1327.5L2028.4,1364.8V1333.1V1364.8V1336.3L2031.8,1301.6L2035.1,1267.0L2038.4,1341.8L2041.7,1376.6L2045.0,1411.4L2048.4,1354.5L2051.7,1303.9L2055.0,1354.1V1398.1L2058.3,1361.3V1360.6V1361.6V1360.6L2061.6,1403.0V1343.8V1424.7L2065.0,1375.1V1352.4V1375.1V1367.3L2068.3,1343.8L2071.6,1336.1V1335.1V1336.1V1335.1L2074.9,1330.4V1326.8V1339.8V1326.8L2078.2,1257.9L2081.6,1364.8L2084.9,1254.0V1362.8L2088.2,1339.2V1338.2V1339.2V1338.2L2091.5,1398.1L2094.8,1342.7V1305.1V1357.5L2098.2,1327.8V1270.4V1327.8V1304.7L2101.5,1301.0L2104.8,1297.2V1378.1V1320.8L2108.1,1337.7L2111.4,1354.5L2114.8,1337.3V1303.9V1337.3V1330.4L2118.1,1384.8L2121.4,1355.3V1326.5V1355.3V1326.5L2124.7,1313.5L2128.0,1398.1V1329.9V1398.1V1335.3L2131.4,1371.4L2134.7,1310.5L2138.0,1309.1V1353.3V1318.8L2141.3,1297.2L2144.6,1330.6V1364.8L2148.0,1329.0V1280.0V1329.0V1280.0L2151.3,1329.9V1328.9V1329.9V1329.0L2154.6,1384.8L2157.9,1244.0L2161.2,1364.8L2164.6,1341.6V1341.1V1342.1V1341.1L2167.9,1354.1"/></g>
<text x="220.3" y="1675.40" text-anchor="end" class="t" xml:space="preserve"><tspan dy="-1.8">–</tspan><tspan dy="1.8"> 0.01</tspan></text>
<text x="220.3" y="1520.92" text-anchor="end" class="t" xml:space="preserve"><tspan dy="-1.8">–</tspan><tspan dy="1.8"> 0.005</tspan></text>
<text x="217.0" y="1351.55" text-anchor="end" class="t" xml:space="preserve">0</text>
<text x="217.0" y="1182.17" text-anchor="end" class="t" xml:space="preserve">0.005</text>
<text x="217.0" y="1012.80" text-anchor="end" class="t" xml:space="preserve">0.01</text>
<text x="230.50" y="1727.00" text-anchor="middle" class="t">0</text>
<text x="443.48" y="1727.00" text-anchor="middle" class="t">2</text>
<text x="659.28" y="1727.00" text-anchor="middle" class="t">4</text>
<text x="875.08" y="1727.00" text-anchor="middle" class="t">6</text>
<text x="1090.88" y="1727.00" text-anchor="middle" class="t">8</text>
<text x="1306.68" y="1727.00" text-anchor="middle" class="t">10</text>
<text x="1522.48" y="1727.00" text-anchor="middle" class="t">12</text>
<text x="1738.28" y="1727.00" text-anchor="middle" class="t">14</text>
<text x="1954.08" y="1727.00" text-anchor="middle" class="t">16</text>
<text x="2169.00" y="1727.00" text-anchor="middle" class="t">18</text>
<text x="1194" y="1785.00" text-anchor="middle" class="t">Time (s)</text>
<text transform="translate(59.7,1333.7) rotate(-90)" text-anchor="middle" class="t" style="letter-spacing:0.17px">Innovation (V)</text>
</svg>
</body></html>
